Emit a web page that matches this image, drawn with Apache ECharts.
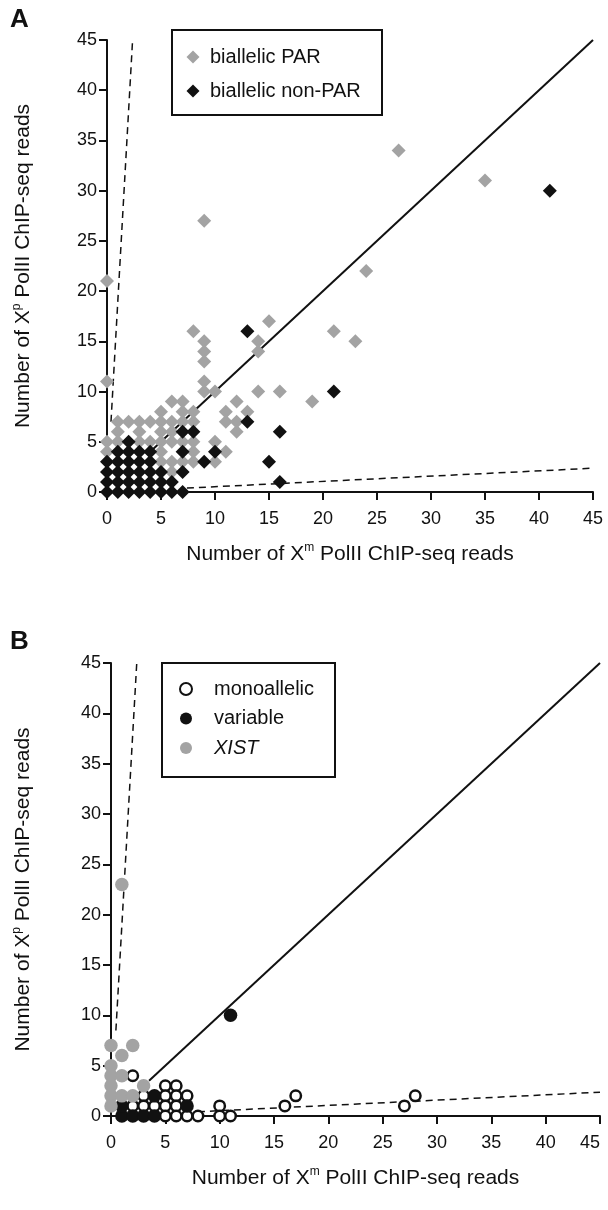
<!DOCTYPE html>
<html>
<head>
<meta charset="utf-8">
<script src="https://cdn.jsdelivr.net/npm/echarts@6/dist/echarts.min.js"></script>
<style>
html,body{margin:0;padding:0;background:#fff;}
#chart{width:608px;height:1210px;}
</style>
</head>
<body>
<div id="chart"></div>
<script>
// ---------- data ----------
const tickValuesA = [0,5,10,15,20,25,30,35,40,45];
const tickValuesB = [0,5,10,15,20,25,30,35,40,45];

// Panel A: biallelic PAR (grey diamonds) [Xm reads, Xp reads]
const biallelicPAR = [
  [0,21],[0,11],[9,27],[27,34],[35,31],[24,22],[21,16],[23,15],[19,9],[16,10],
  [15,17],[8,16],[9,15],[9,14],[9,13],[14,15],[14,14],[9,11],[9,10],[10,10],
  [14,10],[12,9],[11,8],[13,8],[11,7],[12,7],[12,6],[10,5],[11,4],[10,3],
  [6,9],[7,9],
  [5,8],[7,8],[8,8],
  [1,7],[2,7],[3,7],[4,7],[5,7],[6,7],[7,7],[8,7],
  [1,6],[3,6],[5,6],[6,6],
  [0,5],[1,5],[3,5],[4,5],[5,5],[6,5],[7,5],[8,5],
  [0,4],[5,4],[8,4],
  [5,3],[6,3],[7,3],[8,3],
  [6,2]
];
// Panel A: biallelic non-PAR (black diamonds)
const biallelicNonPAR = [
  [0,0],[1,0],[2,0],[3,0],[4,0],[5,0],[6,0],[7,0],
  [0,1],[1,1],[2,1],[3,1],[4,1],[5,1],[6,1],
  [0,2],[1,2],[2,2],[3,2],[4,2],[5,2],[7,2],
  [0,3],[1,3],[2,3],[3,3],[4,3],
  [1,4],[2,4],[3,4],[4,4],[7,4],
  [2,5],
  [7,6],[8,6],[9,3],[10,4],[13,7],[15,3],[16,1],[16,6],[21,10],[13,16],[41,30]
];
// Panel B
const monoallelic = [
  [2,4],[5,3],[6,3],[3,2],[5,2],[6,2],[7,2],
  [2,1],[3,1],[4,1],[5,1],[6,1],
  [5,0],[6,0],[7,0],[8,0],[10,1],[10,0],[11,0],
  [16,1],[17,2],[27,1],[28,2]
];
const variable = [[1,0],[2,0],[3,0],[4,0],[1,1],[4,2],[7,1],[11,10]];
const xist = [[1,23],[0,7],[2,7],[1,6],[0,5],[0,4],[1,4],[0,3],[3,3],[0,2],[1,2],[2,2],[0,1]];

// reference lines
const diagA = [[4,4],[45,45]];
const lowA  = [[7.4,0.39],[45,2.37]];
const highA = [[0.37,7],[2.37,45]];
const diagB = [[3.5,3.5],[45,45]];
const lowB  = [[8,0.42],[45,2.37]];
const highB = [[0.45,8.5],[2.37,45]];

// ---------- chart ----------
const FONT = '"Liberation Sans", Arial, Helvetica, sans-serif';
const chart = echarts.init(document.getElementById('chart'), null, {renderer:'canvas'});

const nameStyle = {fontFamily:FONT, fontSize:21, color:'#111', lineHeight:24,
  rich:{sup:{fontFamily:FONT, fontSize:12, color:'#111', verticalAlign:'top', lineHeight:24}}};

function xAx(gridIndex){
  return {
    type:'value', gridIndex, min:0, max:45, interval:5,
    name:'Number of X{sup|m} PolII ChIP-seq reads', nameLocation:'middle', nameGap:50,
    nameTextStyle:nameStyle,
    axisLine:{show:true, onZero:false, lineStyle:{color:'#111', width:2}},
    axisTick:{show:true, inside:false, length:8, lineStyle:{color:'#111', width:2}},
    axisLabel:{fontFamily:FONT, fontSize:18, color:'#111', margin:18,
      alignMaxLabel: gridIndex===1 ? 'right' : null},
    splitLine:{show:false}
  };
}
function yAx(gridIndex, gap){
  return {
    type:'value', gridIndex, min:0, max:45, interval:5,
    name:'Number of X{sup|p} PolII ChIP-seq reads', nameLocation:'middle', nameGap:gap, nameRotate:90,
    nameTextStyle:nameStyle,
    axisLine:{show:true, onZero:false, lineStyle:{color:'#111', width:2}},
    axisTick:{show:true, inside:false, length:8, lineStyle:{color:'#111', width:2}},
    axisLabel:{fontFamily:FONT, fontSize:18, color:'#111', margin:10},
    splitLine:{show:false}
  };
}
function refLine(data, xi, dashed){
  return {
    type:'line', xAxisIndex:xi, yAxisIndex:xi, data, symbol:'none', silent:true,
    lineStyle:{color:'#111', width: dashed?1.5:2, type: dashed?[7,5]:'solid'},
    z:1, legendHoverLink:false
  };
}

const option = {
  animation:false,
  backgroundColor:'#fff',
  grid:[
    {left:107, top:40, width:486, height:452, containLabel:false, outerBoundsMode:'none'},
    {left:111, top:663, width:489, height:453, containLabel:false, outerBoundsMode:'none'}
  ],
  xAxis:[xAx(0), xAx(1)],
  yAxis:[yAx(0, 72), yAx(1, 76)],
  legend:[
    {
      data:['biallelic PAR','biallelic non-PAR'],
      orient:'vertical', left:186.5, top:47, padding:0, itemWidth:13, itemHeight:13, itemGap:14,
      textStyle:{fontFamily:FONT, fontSize:20, color:'#111', lineHeight:20, padding:[0,0,0,5.5]}
    },
    {
      data:['monoallelic','variable','XIST'],
      orient:'vertical', left:179, top:679, padding:0, itemWidth:12, itemHeight:12, itemGap:9.5,
      formatter: function(n){ return n==='XIST' ? '{i|XIST}' : n; },
      textStyle:{fontFamily:FONT, fontSize:20, color:'#111', lineHeight:20, padding:[0,0,0,17],
        rich:{i:{fontFamily:FONT, fontSize:20, fontStyle:'italic', color:'#111', lineHeight:20}}}
    }
  ],
  graphic:[
    {type:'rect', shape:{x:172, y:30, width:210, height:85}, style:{fill:'#fff', stroke:'#111', lineWidth:2}, z:-1},
    {type:'rect', shape:{x:162, y:663, width:173, height:114}, style:{fill:'#fff', stroke:'#111', lineWidth:2}, z:-1},
    {type:'text', left:10, top:7, style:{text:'A', fontFamily:FONT, fontSize:26, fontWeight:'bold', fill:'#111'}},
    {type:'text', left:10, top:629, style:{text:'B', fontFamily:FONT, fontSize:26, fontWeight:'bold', fill:'#111'}}
  ],
  series:[
    refLine(diagA,0,false), refLine(lowA,0,true), refLine(highA,0,true),
    refLine(diagB,1,false), refLine(lowB,1,true), refLine(highB,1,true),
    {name:'biallelic PAR', type:'scatter', xAxisIndex:0, yAxisIndex:0, data:biallelicPAR,
      symbol:'diamond', symbolSize:14, itemStyle:{color:'#a3a3a3', opacity:1}, z:3},
    {name:'biallelic non-PAR', type:'scatter', xAxisIndex:0, yAxisIndex:0, data:biallelicNonPAR,
      symbol:'diamond', symbolSize:14, itemStyle:{color:'#111', opacity:1}, z:4},
    {name:'monoallelic', type:'scatter', xAxisIndex:1, yAxisIndex:1, data:monoallelic,
      symbol:'circle', symbolSize:10.5, itemStyle:{color:'#fff', borderColor:'#111', borderWidth:2.5, opacity:1}, z:3},
    {name:'variable', type:'scatter', xAxisIndex:1, yAxisIndex:1, data:variable,
      symbol:'circle', symbolSize:13.5, itemStyle:{color:'#111', opacity:1}, z:4},
    {name:'XIST', type:'scatter', xAxisIndex:1, yAxisIndex:1, data:xist,
      symbol:'circle', symbolSize:13.5, itemStyle:{color:'#a3a3a3', opacity:1}, z:5}
  ]
};
chart.setOption(option);
</script>
</body>
</html>
